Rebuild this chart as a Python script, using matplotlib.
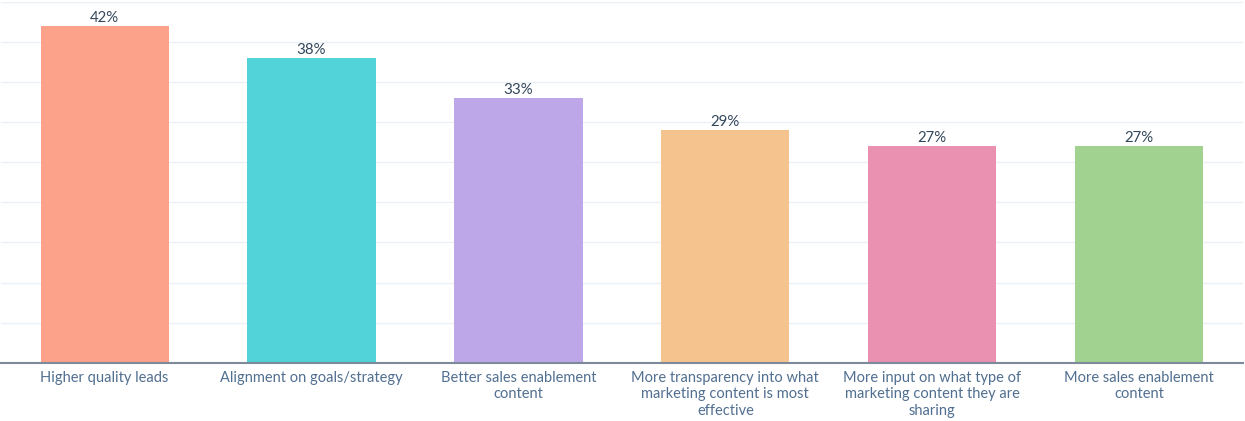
import numpy as np
import matplotlib.pyplot as plt

categories = ["Higher quality leads", "Alignment on goals/strategy",
              "Better sales enablement\ncontent",
              "More transparency into what\nmarketing content is most\neffective",
              "More input on what type of\nmarketing content they are\nsharing",
              "More sales enablement\ncontent"]
values = [42, 38, 33, 29, 27, 27]
colors = ["#FCA28B", "#51D3D9", "#BEA7E8", "#F5C48E", "#EA90B1", "#A2D28F"]

plt.rcParams['font.family'] = ['Lato', 'DejaVu Sans']

fig = plt.figure(figsize=(12.45, 4.21), dpi=100)
ax = fig.add_axes([0.001, 0.138, 0.997, 0.858])

x = np.arange(len(values))
ax.bar(x, values, width=0.62, color=colors, zorder=2)
for xi, v in zip(x, values):
    ax.text(xi, v + 0.15, f"{v}%", ha='center', va='bottom', fontsize=10.8, color='#33475b')

ax.set_xlim(-0.5, 5.5)
ax.set_ylim(0, 45)
ax.set_yticks(np.arange(0, 46, 5))
ax.yaxis.grid(True, color='#eaf0f6', linewidth=1, zorder=0)
ax.tick_params(axis='y', left=False, labelleft=False)
ax.tick_params(axis='x', bottom=False, pad=2.5)
ax.set_xticks(x)
ax.set_xticklabels(categories, fontsize=10.5, color='#516f90', linespacing=1.2)

for s in ['top', 'right', 'left']:
    ax.spines[s].set_visible(False)
ax.spines['bottom'].set_color('#7c8a9b')
ax.spines['bottom'].set_linewidth(1.5)

fig.savefig('out.png', dpi=100)
